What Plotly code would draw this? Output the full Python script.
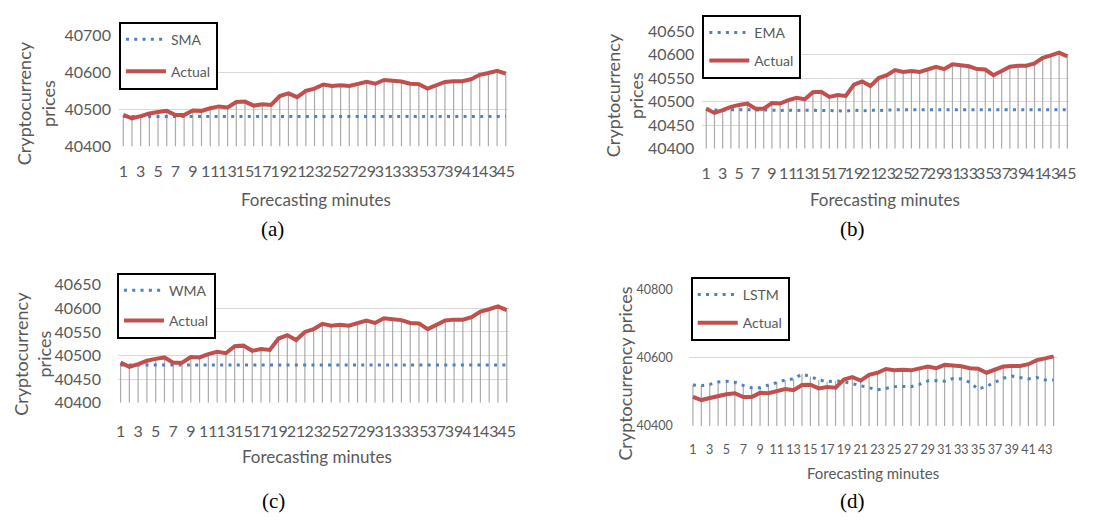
import plotly.graph_objects as go

# Forecast horizon (minutes) and observed / forecast prices
minutes = list(range(1, 46))
actual = [40485, 40476, 40482, 40489, 40493, 40496, 40485, 40485, 40497, 40496,
          40503, 40508, 40505, 40520, 40521, 40510, 40514, 40512, 40536, 40543,
          40533, 40550, 40556, 40567, 40563, 40565, 40563, 40569, 40574, 40569,
          40579, 40577, 40575, 40569, 40568, 40556, 40565, 40574, 40576, 40576,
          40581, 40593, 40598, 40604, 40596]
sma = [40481, 40481, 40481, 40481, 40481, 40481, 40481, 40481, 40481, 40481,
       40481, 40481, 40481, 40481, 40481, 40481, 40481, 40481, 40481, 40481,
       40481, 40481, 40481, 40481, 40481, 40481, 40481, 40481, 40481, 40481,
       40481, 40481, 40481, 40481, 40481, 40481, 40481, 40481, 40481, 40481,
       40481, 40481, 40481, 40481, 40481]
ema = [40485, 40482, 40482, 40483, 40483, 40483, 40482, 40482, 40482, 40481,
       40482, 40481, 40482, 40481, 40481, 40481, 40481, 40480, 40482, 40480,
       40482, 40481, 40482, 40483, 40483, 40483, 40483, 40483, 40483, 40483,
       40483, 40483, 40483, 40483, 40483, 40483, 40483, 40483, 40483, 40483,
       40483, 40483, 40483, 40483, 40483]
wma = [40480, 40480, 40480, 40480, 40480, 40480, 40480, 40480, 40480, 40480,
       40480, 40480, 40480, 40480, 40480, 40480, 40480, 40480, 40480, 40480,
       40480, 40480, 40480, 40480, 40480, 40480, 40480, 40480, 40480, 40480,
       40480, 40480, 40480, 40480, 40480, 40480, 40480, 40480, 40480, 40480,
       40480, 40480, 40480, 40480, 40480]
lstm_minutes = list(range(1, 45))
lstm = [40520, 40518, 40522, 40529, 40531, 40528, 40519, 40512, 40512, 40519,
        40528, 40535, 40538, 40552, 40545, 40535, 40530, 40532, 40530, 40524,
        40516, 40510, 40506, 40510, 40515, 40516, 40515, 40522, 40532, 40533,
        40531, 40539, 40538, 40528, 40508, 40516, 40528, 40540, 40546, 40541,
        40538, 40542, 40535, 40535]

ticks_45 = [1, 3, 5, 7, 9, 11, 13, 15, 17, 19, 21, 23, 25, 27, 29, 31, 33, 35,
            37, 39, 41, 43, 45]
ticks_44 = [1, 3, 5, 7, 9, 11, 13, 15, 17, 19, 21, 23, 25, 27, 29, 31, 33, 35,
            37, 39, 41, 43]

W, H = 1108, 522
SANS = "Lato, 'Open Sans', sans-serif"
GREY = "#595959"
RED = "#C0504D"
BLUE = "#4F81BD"


def px_x(v):
    return v / W


def px_y(v):
    return 1 - v / H


panels = [
    dict(key="", name="SMA", series=sma, xs=minutes, act=actual[:45],
         xdom=(118, 511), ydom=(26, 141.7), xr=[0.5, 45.3], yr=[40400, 40700],
         dtick=100, ticks=ticks_45, tfs=16, xstand=13, ystand=7,
         legend="legend", leg=(118, 12), gap=11),
    dict(key="2", name="EMA", series=ema, xs=minutes, act=actual[:45],
         xdom=(706.7, 1076.7), ydom=(21.7, 144), xr=[0.52, 45.2], yr=[40400, 40650],
         dtick=50, ticks=ticks_45, tfs=16, xstand=13, ystand=7,
         legend="legend2", leg=(706.7, 5), gap=7),
    dict(key="3", name="WMA", series=wma, xs=minutes, act=actual[:45],
         xdom=(117, 512), ydom=(285, 407.7), xr=[0.7, 45.3], yr=[40400, 40650],
         dtick=50, ticks=ticks_45, tfs=16, xstand=17, ystand=16,
         legend="legend3", leg=(116, 272.7), gap=9),
    dict(key="4", name="LSTM", series=lstm, xs=lstm_minutes, act=actual[:44],
         xdom=(693, 1065), ydom=(290, 431.7), xr=[0.5, 44.45], yr=[40400, 40800],
         dtick=200, ticks=ticks_44, tfs=12.5, xstand=15, ystand=15,
         legend="legend4", leg=(695, 277), gap=7),
]

fig = go.Figure()
layout = dict(width=W, height=H, autosize=False, margin=dict(l=0, r=0, t=0, b=0),
              paper_bgcolor="white", plot_bgcolor="white",
              font=dict(family=SANS, color=GREY), showlegend=True)

for p in panels:
    xa, ya = "x" + p["key"], "y" + p["key"]
    # vertical drop lines from the highest series down to the axis floor
    dx, dy = [], []
    for i, m in enumerate(p["xs"]):
        dx += [m, m, None]
        dy += [p["yr"][0], max(p["act"][i], p["series"][i]), None]
    fig.add_trace(go.Scatter(x=dx, y=dy, mode="lines", xaxis=xa, yaxis=ya,
                             line=dict(color="#ABABAB", width=1.2),
                             showlegend=False, hoverinfo="skip"))
    fig.add_trace(go.Scatter(x=p["xs"], y=p["series"], name=p["name"], mode="lines",
                             xaxis=xa, yaxis=ya, legend=p["legend"],
                             legendgroup=p["name"],
                             line=dict(color=BLUE, width=3, dash="3px,5.3px")))
    fig.add_trace(go.Scatter(x=p["xs"], y=p["act"], name="Actual", mode="lines",
                             xaxis=xa, yaxis=ya, legend=p["legend"],
                             legendgroup="Actual" + p["key"],
                             line=dict(color=RED, width=4)))

    layout["xaxis" + p["key"]] = dict(
        domain=[px_x(p["xdom"][0]), px_x(p["xdom"][1])], anchor=ya,
        range=p["xr"], showgrid=False, zeroline=False, showline=False,
        tickmode="array", tickvals=p["ticks"], ticktext=[str(t) for t in p["ticks"]],
        tickangle=0, ticks="", ticklabelstandoff=p["xstand"],
        tickfont=dict(family=SANS, size=p["tfs"], color=GREY))
    layout["yaxis" + p["key"]] = dict(
        domain=[px_y(p["ydom"][1]), px_y(p["ydom"][0])], anchor=xa,
        range=p["yr"], dtick=p["dtick"], tick0=40400, tickformat="d",
        showgrid=True, gridcolor="#D9D9D9", gridwidth=1.2,
        zeroline=False, showline=False, ticks="", ticklabelstandoff=p["ystand"],
        tickfont=dict(family=SANS, size=p["tfs"], color=GREY))
    layout[p["legend"]] = dict(
        x=px_x(p["leg"][0]), y=px_y(p["leg"][1]), xanchor="left", yanchor="top",
        bordercolor="black", borderwidth=2, bgcolor="white",
        traceorder="grouped", tracegroupgap=p["gap"], itemwidth=40,
        font=dict(family=SANS, size=14, color=GREY))

annotations = []


def label(text, x, y, size, angle=0, family=SANS, color=GREY):
    annotations.append(dict(text=text, x=px_x(x), y=px_y(y), xref="paper",
                            yref="paper", showarrow=False, textangle=angle,
                            xanchor="center", yanchor="middle",
                            font=dict(family=family, size=size, color=color)))


# axis titles
label("Forecasting minutes", 317, 197, 17)
label("Forecasting minutes", 891, 197, 17)
label("Forecasting minutes", 318, 463, 17)
label("Forecasting minutes", 879, 481, 15)
label("Cryptocurrency<br>prices", 34, 97, 18, -90)
label("Cryptocurrency<br>prices", 628, 88, 18, -90)
label("Cryptocurrency<br>prices", 30, 357, 18, -90)
label("Cryptocurrency prices", 629, 377, 18, -90)

# panel captions
SERIF = "'Liberation Serif', 'DejaVu Serif', serif"
label("(a)", 273, 227, 21, family=SERIF, color="black")
label("(b)", 858, 227, 21, family=SERIF, color="black")
label("(c)", 274, 510, 21, family=SERIF, color="black")
label("(d)", 858, 510, 21, family=SERIF, color="black")

layout["annotations"] = annotations
fig.update_layout(**layout)

fig.write_html("out.html", config=dict(displayModeBar=False))
